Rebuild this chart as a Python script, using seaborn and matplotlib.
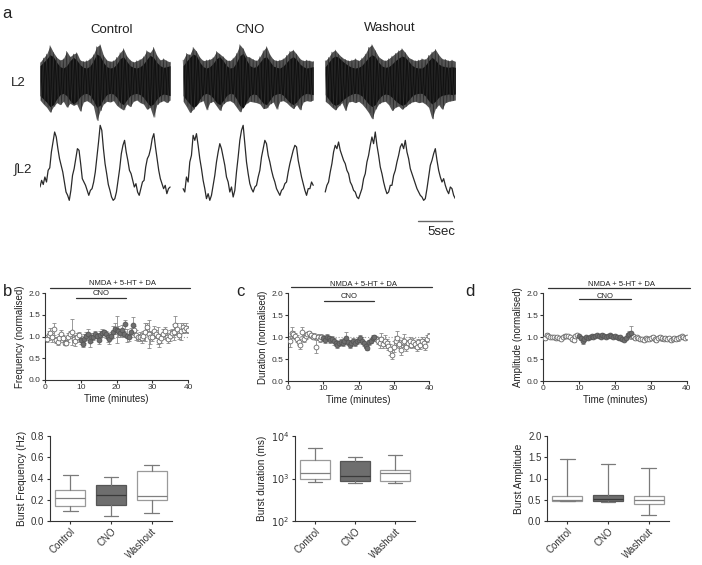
import numpy as np
import matplotlib
matplotlib.use("Agg")
import matplotlib.pyplot as plt
import seaborn as sns

sns.set_style("ticks")
plt.rcParams['font.family'] = ['Liberation Sans', 'DejaVu Sans']
plt.rcParams['axes.edgecolor'] = '#333333'
plt.rcParams['axes.linewidth'] = 0.8
plt.rcParams['xtick.color'] = '#333333'
plt.rcParams['ytick.color'] = '#333333'
plt.rcParams['text.color'] = '#222222'
plt.rcParams['axes.labelcolor'] = '#222222'

# ---------------- data ----------------
conditions = ['Control', 'CNO', 'Washout']

# panel a: each recording segment lasts 19.5 s
seg_len = 19.5
# raw L2: spike tips and dense core half-width, every 0.5 s
ctrl_up = [0.55, 0.68, 0.80, 1.05, 0.85, 0.70, 0.62, 0.66, 0.88, 0.72,
           0.80, 0.84, 0.62, 0.58, 0.60, 0.66, 0.78, 1.02, 1.08, 0.76,
           0.62, 0.58, 0.60, 0.70, 0.84, 0.96, 0.74, 0.62, 0.56, 0.60,
           0.64, 0.72, 0.90, 0.84, 1.00, 0.76, 0.62, 0.66, 0.60, 0.56]
ctrl_lo = [-0.58, -0.70, -0.80, -0.95, -0.78, -0.66, -0.72, -0.62, -0.80, -0.68,
           -0.74, -0.70, -0.92, -0.64, -0.60, -0.66, -0.76, -1.20, -0.90, -0.70,
           -0.62, -0.64, -0.60, -0.74, -0.82, -0.88, -0.70, -0.78, -0.62, -0.58,
           -0.66, -0.70, -0.86, -0.80, -1.10, -0.72, -0.64, -0.60, -0.66, -0.58]
ctrl_core = [0.45, 0.55, 0.65, 0.78, 0.72, 0.55, 0.42, 0.38, 0.45, 0.60,
             0.70, 0.62, 0.48, 0.40, 0.38, 0.44, 0.60, 0.80, 0.74, 0.55,
             0.42, 0.38, 0.40, 0.50, 0.66, 0.72, 0.58, 0.45, 0.40, 0.38,
             0.42, 0.50, 0.64, 0.76, 0.70, 0.55, 0.45, 0.40, 0.42, 0.45]

cno_up = [0.62, 0.82, 0.78, 1.00, 0.88, 0.70, 0.60, 0.62, 0.64, 0.70,
          0.88, 0.80, 0.72, 0.62, 0.60, 0.68, 0.82, 1.08, 0.96, 0.74,
          0.70, 0.64, 0.60, 0.72, 0.90, 1.02, 0.78, 0.64, 0.60, 0.62,
          0.66, 0.76, 0.88, 0.92, 0.80, 0.66, 0.60, 0.62, 0.60, 0.58]
cno_lo = [-0.62, -0.78, -0.96, -0.86, -0.72, -0.64, -0.60, -0.88, -0.66, -0.62,
          -0.76, -0.90, -0.70, -0.62, -0.60, -0.66, -0.80, -0.94, -0.78, -0.68,
          -0.62, -0.64, -0.66, -0.70, -0.84, -0.82, -0.70, -0.64, -0.86, -0.62,
          -0.60, -0.66, -0.76, -0.84, -0.72, -0.88, -0.64, -0.60, -0.62, -0.58]
cno_core = [0.45, 0.58, 0.70, 0.80, 0.75, 0.55, 0.42, 0.38, 0.42, 0.52,
            0.66, 0.72, 0.60, 0.45, 0.38, 0.40, 0.55, 0.75, 0.82, 0.62,
            0.45, 0.40, 0.42, 0.55, 0.68, 0.72, 0.58, 0.44, 0.40, 0.38,
            0.44, 0.55, 0.66, 0.72, 0.64, 0.50, 0.42, 0.38, 0.40, 0.42]

wash_up = [0.60, 0.70, 0.86, 0.92, 0.80, 0.70, 0.64, 0.60, 0.62, 0.66,
           0.60, 0.68, 0.80, 1.00, 1.08, 0.90, 0.72, 0.64, 0.60, 0.66,
           0.74, 0.82, 0.90, 0.96, 0.84, 0.70, 0.64, 0.60, 0.62, 0.66,
           0.64, 0.76, 0.86, 0.94, 0.78, 0.66, 0.64, 0.60, 0.62, 0.58]
wash_lo = [-0.62, -0.70, -0.80, -0.88, -0.76, -0.66, -0.90, -0.64, -0.62, -0.66,
           -0.62, -0.70, -0.82, -0.96, -1.15, -0.86, -0.70, -0.64, -0.62, -0.72,
           -0.90, -0.80, -0.76, -0.86, -0.78, -0.70, -0.64, -0.62, -0.66, -0.64,
           -0.70, -0.80, -1.15, -0.84, -0.72, -0.86, -0.66, -0.62, -0.60, -0.58]
wash_core = [0.42, 0.55, 0.68, 0.74, 0.70, 0.60, 0.52, 0.45, 0.40, 0.38,
             0.40, 0.46, 0.58, 0.70, 0.78, 0.72, 0.55, 0.44, 0.40, 0.42,
             0.50, 0.60, 0.68, 0.74, 0.70, 0.58, 0.46, 0.40, 0.38, 0.38,
             0.46, 0.60, 0.70, 0.62, 0.50, 0.44, 0.42, 0.40, 0.42, 0.40]

# integrated L2 (every 0.25 s, normalised 0-1)
ctrl_int = [0.24, 0.32, 0.27, 0.36, 0.30, 0.44, 0.47, 0.66, 0.78, 0.90,
            0.84, 0.70, 0.58, 0.50, 0.42, 0.30, 0.18, 0.14, 0.08, 0.20,
            0.38, 0.46, 0.58, 0.70, 0.68, 0.52, 0.34, 0.30, 0.26, 0.20,
            0.14, 0.20, 0.22, 0.30, 0.42, 0.60, 0.78, 0.98, 0.92, 0.70,
            0.52, 0.40, 0.27, 0.20, 0.12, 0.08, 0.10, 0.18, 0.32, 0.46,
            0.64, 0.74, 0.80, 0.66, 0.56, 0.44, 0.40, 0.32, 0.24, 0.28,
            0.18, 0.14, 0.22, 0.30, 0.32, 0.48, 0.58, 0.62, 0.70, 0.82,
            0.88, 0.72, 0.58, 0.44, 0.34, 0.28, 0.22, 0.26, 0.16, 0.22, 0.24]
cno_int = [0.22, 0.18, 0.36, 0.30, 0.54, 0.62, 0.86, 0.80, 0.88, 0.74,
           0.58, 0.46, 0.32, 0.22, 0.10, 0.16, 0.08, 0.14, 0.26, 0.38,
           0.54, 0.66, 0.76, 0.70, 0.60, 0.50, 0.36, 0.30, 0.18, 0.24,
           0.12, 0.20, 0.42, 0.60, 0.80, 0.92, 0.98, 0.76, 0.54, 0.40,
           0.28, 0.22, 0.18, 0.24, 0.26, 0.36, 0.44, 0.60, 0.70, 0.80,
           0.76, 0.62, 0.54, 0.44, 0.36, 0.30, 0.22, 0.18, 0.14, 0.20,
           0.22, 0.28, 0.30, 0.42, 0.52, 0.60, 0.68, 0.74, 0.72, 0.56,
           0.46, 0.36, 0.28, 0.20, 0.14, 0.22, 0.22, 0.30, 0.26]
wash_int = [0.18, 0.26, 0.30, 0.42, 0.52, 0.66, 0.74, 0.70, 0.78, 0.68,
            0.62, 0.56, 0.52, 0.44, 0.40, 0.30, 0.26, 0.20, 0.18, 0.12,
            0.10, 0.16, 0.22, 0.34, 0.40, 0.54, 0.62, 0.74, 0.84, 0.76,
            0.90, 0.74, 0.62, 0.48, 0.40, 0.30, 0.22, 0.16, 0.18, 0.26,
            0.26, 0.38, 0.44, 0.54, 0.62, 0.72, 0.76, 0.70, 0.80, 0.66,
            0.58, 0.46, 0.40, 0.34, 0.28, 0.22, 0.18, 0.14, 0.12, 0.08,
            0.10, 0.22, 0.36, 0.50, 0.56, 0.64, 0.70, 0.56, 0.44, 0.36,
            0.30, 0.34, 0.26, 0.20, 0.16, 0.24, 0.22, 0.14, 0.10]

# time course (normalised), one point every 0.5 min
minutes = np.arange(1, 81) * 0.5
cno_on, cno_off = 10.0, 24.5

freq_mean = [0.95, 1.03, 1.08, 0.98, 1.18, 0.92, 0.88, 0.97, 1.05, 0.96,
             0.86, 0.86, 0.98, 1.05, 1.10, 0.95, 0.90, 0.98, 1.04, 0.92,
             0.82, 0.95, 1.02, 1.05, 0.90, 0.98, 1.00, 1.06, 1.02, 0.92,
             1.04, 1.08, 1.10, 1.05, 0.98, 0.94, 1.02, 1.10, 1.18, 1.16,
             1.12, 1.08, 1.14, 1.06, 1.28, 1.02, 0.98, 1.10, 1.27, 1.14,
             1.04, 0.98, 1.00, 0.96, 1.02, 1.10, 1.22, 1.05, 0.98, 1.00,
             1.12, 1.06, 1.02, 0.90, 0.96, 1.06, 1.12, 1.00, 0.94, 1.02,
             1.08, 1.10, 1.26, 1.18, 1.04, 1.12, 1.22, 1.16, 1.20, 1.15]
freq_sem = [0.08, 0.10, 0.12, 0.10, 0.14, 0.08, 0.07, 0.09, 0.10, 0.08,
            0.06, 0.06, 0.10, 0.08, 0.30, 0.08, 0.12, 0.10, 0.07, 0.09,
            0.06, 0.10, 0.08, 0.12, 0.14, 0.10, 0.08, 0.07, 0.06, 0.10,
            0.08, 0.10, 0.06, 0.08, 0.10, 0.12, 0.08, 0.14, 0.12, 0.30,
            0.12, 0.10, 0.12, 0.06, 0.10, 0.15, 0.08, 0.10, 0.18, 0.10,
            0.12, 0.08, 0.10, 0.12, 0.10, 0.20, 0.10, 0.32, 0.15, 0.10,
            0.12, 0.10, 0.20, 0.15, 0.10, 0.12, 0.10, 0.08, 0.10, 0.12,
            0.10, 0.18, 0.22, 0.12, 0.10, 0.20, 0.10, 0.08, 0.10, 0.08]

dur_mean = [0.90, 1.10, 1.06, 1.02, 0.96, 0.88, 0.82, 1.12, 0.96, 1.02,
            1.06, 1.08, 1.04, 1.00, 1.02, 0.78, 1.00, 0.96, 1.00, 0.98,
            0.94, 1.00, 0.98, 0.94, 0.96, 0.90, 0.86, 0.82, 0.86, 0.88,
            0.86, 0.92, 0.98, 0.88, 0.82, 0.86, 0.92, 0.86, 0.90, 0.94,
            0.98, 0.92, 0.86, 0.80, 0.76, 0.88, 0.92, 0.98, 1.00, 0.96,
            0.92, 0.86, 0.96, 0.84, 0.92, 0.86, 0.80, 0.72, 0.60, 0.78,
            0.90, 0.98, 0.84, 0.70, 0.88, 0.92, 0.78, 0.86, 0.90, 0.82,
            0.88, 0.84, 0.78, 0.88, 0.82, 0.92, 0.86, 0.80, 0.96, 1.02]
dur_sem = [0.12, 0.12, 0.08, 0.06, 0.08, 0.07, 0.10, 0.10, 0.08, 0.06,
           0.06, 0.05, 0.06, 0.05, 0.06, 0.15, 0.06, 0.08, 0.07, 0.06,
           0.08, 0.06, 0.05, 0.07, 0.06, 0.08, 0.07, 0.08, 0.06, 0.07,
           0.06, 0.06, 0.14, 0.06, 0.06, 0.07, 0.06, 0.07, 0.06, 0.06,
           0.06, 0.07, 0.06, 0.06, 0.05, 0.06, 0.05, 0.06, 0.04, 0.06,
           0.08, 0.10, 0.14, 0.08, 0.12, 0.10, 0.10, 0.12, 0.10, 0.12,
           0.12, 0.16, 0.10, 0.12, 0.10, 0.14, 0.10, 0.08, 0.10, 0.08,
           0.10, 0.08, 0.10, 0.08, 0.10, 0.08, 0.10, 0.10, 0.08, 0.06]

amp_mean = [0.98, 1.04, 1.02, 1.00, 1.01, 0.99, 0.97, 1.00, 0.98, 0.96,
            1.00, 1.03, 1.02, 1.02, 1.00, 0.96, 0.94, 1.02, 1.04, 1.02,
            0.98, 0.90, 0.96, 1.00, 0.98, 0.99, 1.02, 1.00, 1.03, 1.04,
            1.02, 1.01, 1.05, 1.03, 1.00, 1.02, 1.04, 1.03, 1.00, 1.02,
            0.99, 0.97, 1.00, 0.96, 0.94, 0.98, 1.04, 1.06, 1.10, 1.02,
            0.98, 1.00, 0.97, 0.95, 0.96, 0.94, 0.98, 0.96, 0.95, 0.97,
            0.99, 0.96, 0.94, 0.98, 1.00, 0.97, 0.96, 0.98, 0.95, 0.97,
            0.94, 0.96, 0.98, 0.95, 0.97, 1.00, 1.02, 1.01, 0.98, 0.99]
amp_sem = [0.05, 0.04, 0.03, 0.03, 0.03, 0.03, 0.03, 0.03, 0.03, 0.03,
           0.03, 0.03, 0.02, 0.03, 0.03, 0.04, 0.06, 0.03, 0.03, 0.03,
           0.04, 0.06, 0.04, 0.03, 0.03, 0.03, 0.03, 0.03, 0.03, 0.03,
           0.03, 0.03, 0.03, 0.03, 0.03, 0.04, 0.03, 0.03, 0.03, 0.03,
           0.03, 0.04, 0.03, 0.05, 0.04, 0.03, 0.04, 0.08, 0.14, 0.05,
           0.04, 0.03, 0.04, 0.04, 0.04, 0.05, 0.04, 0.04, 0.05, 0.04,
           0.05, 0.05, 0.06, 0.04, 0.04, 0.06, 0.05, 0.04, 0.05, 0.04,
           0.06, 0.05, 0.04, 0.05, 0.06, 0.04, 0.03, 0.03, 0.03, 0.03]

# box plot summaries (whisker low, Q1, median, Q3, whisker high)
freq_lo = [0.09, 0.05, 0.08]
freq_q1 = [0.145, 0.15, 0.195]
freq_med = [0.22, 0.245, 0.24]
freq_q3 = [0.29, 0.335, 0.475]
freq_hi = [0.43, 0.415, 0.525]

dur_lo = [820, 780, 770]
dur_q1 = [990, 880, 880]
dur_med = [1330, 1150, 1370]
dur_q3 = [2700, 2550, 1620]
dur_hi = [5100, 3250, 3600]

amp_lo = [0.46, 0.45, 0.15]
amp_q1 = [0.47, 0.47, 0.41]
amp_med = [0.50, 0.52, 0.50]
amp_q3 = [0.59, 0.62, 0.59]
amp_hi = [1.45, 1.33, 1.25]

# ---------------- figure ----------------
W, H = 702, 565
fig = plt.figure(figsize=(W / 100, H / 100), dpi=100)


def px_axes(left, top, right, bottom):
    return fig.add_axes([left / W, 1 - bottom / H, (right - left) / W, (bottom - top) / H])


def fig_text(x, y, s, **kw):
    fig.text(x / W, 1 - y / H, s, ha='center', va='center', **kw)


# panel a -------------------------------------------------------------
axa = px_axes(40, 40, 455, 235)
seg_start = [0.0, 21.45, 42.75]
raw_offset = 3.79
int_scale = 2.5
segments = [(ctrl_up, ctrl_lo, ctrl_core, ctrl_int),
            (cno_up, cno_lo, cno_core, cno_int),
            (wash_up, wash_lo, wash_core, wash_int)]
for start, (up, lo, core, integ) in zip(seg_start, segments):
    t_tip = start + np.linspace(0, seg_len, len(up))
    up = np.array(up)
    lo = np.array(lo)
    # grey fuzz out to the spike tips
    axa.fill_between(t_tip, raw_offset + lo, raw_offset + up, color='#555555', linewidth=0)
    # individual spikes, alternating above / below
    t_zig = np.ravel(np.column_stack([t_tip, t_tip + 0.22]))[:-1]
    y_zig = np.ravel(np.column_stack([up, lo]))[:-1]
    axa.plot(t_zig, raw_offset + y_zig, color='#2e2e2e', lw=0.4)
    # dense black core
    core = np.array(core)
    t_core = start + np.linspace(0, seg_len, len(core))
    axa.fill_between(t_core, raw_offset - core, raw_offset + core,
                     color='#111111', linewidth=0)
    t_int = start + np.linspace(0, seg_len, len(integ))
    sns.lineplot(x=t_int, y=int_scale * np.array(integ), ax=axa, color='#2a2a2a',
                 linewidth=0.9, estimator=None)
axa.plot([56.7, 61.7], [-0.42, -0.42], color='#666666', lw=1.0)
axa.text(60.1, -0.75, '5sec', ha='center', va='center', fontsize=9.5)
axa.set_xlim(0, 62.2)
axa.set_ylim(-0.84, 5.01)
axa.axis('off')

fig_text(7, 14, 'a', fontsize=12)
for x, y, name in [(112, 30, 'Control'), (250, 30, 'CNO'), (390, 28, 'Washout')]:
    fig_text(x, y, name, fontsize=9.5)
fig_text(18, 83, 'L2', fontsize=9.5)
fig_text(23, 170, '\u222bL2', fontsize=9.5)


# time-course panels ----------------------------------------------------
def time_panel(ax, mean, sem, ylabel, nmda, cno):
    mean = np.array(mean)
    sem = np.array(sem)
    on = (minutes >= cno_on) & (minutes <= cno_off)
    ax.axhline(1.0, color='#9a9a9a', ls=':', lw=0.8, zorder=0)
    ax.errorbar(minutes, mean, yerr=sem, fmt='none', ecolor='#8a8a8a',
                elinewidth=0.6, capsize=1.4, capthick=0.6, zorder=1)
    sns.scatterplot(x=minutes[~on], y=mean[~on], ax=ax, color='white',
                    edgecolor='#6a6a6a', linewidth=0.6, s=12, zorder=3)
    sns.scatterplot(x=minutes[on], y=mean[on], ax=ax, color='#6e6e6e',
                    edgecolor='#555555', linewidth=0.6, s=12, zorder=3)
    ax.set_xlim(0, 40)
    ax.set_ylim(0, 2.0)
    ax.set_xticks([0, 10, 20, 30, 40])
    ax.set_yticks([0, 0.5, 1.0, 1.5, 2.0])
    ax.set_yticklabels(['0.0', '0.5', '1.0', '1.5', '2.0'])
    ax.tick_params(labelsize=6, length=2.2, width=0.8, pad=1.0)
    ax.set_xlabel('Time (minutes)', fontsize=7, labelpad=2)
    ax.set_ylabel(ylabel, fontsize=7, labelpad=3)
    (nx0, nx1, ny, nty), (cx0, cx1, cy, cty) = nmda, cno
    ax.plot([nx0, nx1], [ny, ny], color='#333333', lw=0.9, clip_on=False)
    ax.text((nx0 + nx1) / 2 + 0.6, nty, 'NMDA + 5-HT + DA', ha='center', va='center',
            fontsize=5.5, clip_on=False)
    ax.plot([cx0, cx1], [cy, cy], color='#333333', lw=0.9, clip_on=False)
    ax.text((cx0 + cx1) / 2, cty, 'CNO', ha='center', va='center', fontsize=5.5,
            clip_on=False)
    sns.despine(ax=ax)


axb = px_axes(45, 293, 188, 380)
time_panel(axb, freq_mean, freq_sem, 'Frequency (normalised)',
           (1.4, 40.5, 2.115, 2.21), (8.7, 22.7, 1.885, 1.98))
axc = px_axes(288, 293, 429, 381)
time_panel(axc, dur_mean, dur_sem, 'Duration (normalised)',
           (0.85, 40.9, 2.135, 2.2), (10.2, 24.4, 1.82, 1.93))
axd = px_axes(543, 293, 687, 381)
time_panel(axd, amp_mean, amp_sem, 'Amplitude (normalised)',
           (1.4, 40.8, 2.11, 2.2), (10.0, 24.4, 1.86, 1.93))

fig_text(8, 292, 'b', fontsize=12)
fig_text(240, 292, 'c', fontsize=12)
fig_text(470, 292, 'd', fontsize=12)


# box panels -----------------------------------------------------------
def box_panel(ax, lo, q1, med, q3, hi, ylabel):
    stats = [dict(label=c, whislo=a, q1=b, med=m, q3=d, whishi=e, fliers=[])
             for c, a, b, m, d, e in zip(conditions, lo, q1, med, q3, hi)]
    bp = ax.bxp(stats, positions=[0, 1, 2], widths=0.74, patch_artist=True,
                showfliers=False, capwidths=0.36)
    faces = ['white', '#6e6e6e', 'white']
    edges = ['#9a9a9a', '#555555', '#9a9a9a']
    meds = ['#808080', '#3a3a3a', '#808080']
    for i, box in enumerate(bp['boxes']):
        box.set_facecolor(faces[i])
        box.set_edgecolor(edges[i])
        box.set_linewidth(0.9)
        bp['medians'][i].set_color(meds[i])
        bp['medians'][i].set_linewidth(0.9)
    for ln in bp['whiskers'] + bp['caps']:
        ln.set_color('#7a7a7a')
        ln.set_linewidth(0.9)
    ax.set_xlim(-0.5, 2.5)
    ax.set_xticks([0, 1, 2])
    ax.set_xticklabels(conditions, rotation=45, ha='right', rotation_mode='anchor',
                       fontsize=7)
    ax.tick_params(axis='y', labelsize=7)
    ax.tick_params(length=2.5, width=0.8, pad=1.5)
    ax.set_ylabel(ylabel, fontsize=7.2, labelpad=3)
    sns.despine(ax=ax)


axe = px_axes(50, 436, 172, 521)
box_panel(axe, freq_lo, freq_q1, freq_med, freq_q3, freq_hi, 'Burst Frequency (Hz)')
axe.set_ylim(0, 0.8)
axe.set_yticks([0, 0.2, 0.4, 0.6, 0.8])
axe.set_yticklabels(['0.0', '0.2', '0.4', '0.6', '0.8'])

axf = px_axes(295, 436, 415, 521)
box_panel(axf, dur_lo, dur_q1, dur_med, dur_q3, dur_hi, 'Burst duration (ms)')
axf.set_yscale('log')
axf.set_ylim(100, 10000)
axf.set_yticks([100, 1000, 10000])
axf.set_yticklabels(['$10^2$', '$10^3$', '$10^4$'])
axf.minorticks_off()

axg = px_axes(547, 436, 669, 521)
box_panel(axg, amp_lo, amp_q1, amp_med, amp_q3, amp_hi, 'Burst Amplitude')
axg.set_ylim(0, 2.0)
axg.set_yticks([0, 0.5, 1.0, 1.5, 2.0])
axg.set_yticklabels(['0.0', '0.5', '1.0', '1.5', '2.0'])

fig.savefig('out.png', dpi=100)
